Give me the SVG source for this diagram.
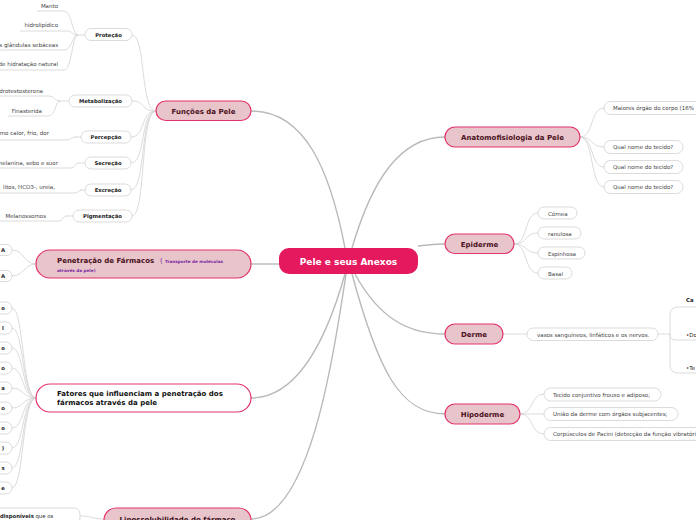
<svg xmlns="http://www.w3.org/2000/svg" width="696" height="520" viewBox="0 0 696 520">
<style>
text{font-family:"DejaVu Sans","Liberation Sans",sans-serif}
.main rect{fill:#e8c5cb;stroke:#e3336c;stroke-width:1.2}
.main text{font-size:7px;font-weight:bold;fill:#4a1020;text-anchor:middle}
.leaf rect{fill:#fff;stroke:#d2d2d2;stroke-width:0.8}
.leaf text{font-size:5.5px;fill:#444}
.bl text{font-size:5.3px;font-weight:bold;fill:#222;text-anchor:middle}
.sub text{font-size:5.5px;fill:#444;text-anchor:end}
.c1{fill:none;stroke:#b9b9b9;stroke-width:1.4}
.c2{fill:none;stroke:#d2d2d2;stroke-width:0.8}
</style>
<g id="connectors">
<path class="c1" d="M251,111 C305,111 330,170 345,248"/>
<path class="c1" d="M352,248 C372,180 400,137 445,137"/>
<path class="c1" d="M418,246 C430,245 435,244 445,244"/>
<path class="c1" d="M251,264 L279,264"/>
<path class="c1" d="M355,274 C380,320 410,334 445,334"/>
<path class="c1" d="M352,274 C378,370 400,414 445,414"/>
<path class="c1" d="M251,398 C305,398 332,320 345,274"/>
<path class="c1" d="M251,519 C312,519 336,340 346,274"/>
<path class="c2" d="M156,111 C140,111 146,35 132,35"/>
<path class="c2" d="M156,111 C140,111 146,101 132,101"/>
<path class="c2" d="M156,111 C140,111 146,137 131,137"/>
<path class="c2" d="M156,111 C140,111 146,163 131,163"/>
<path class="c2" d="M156,111 C140,111 146,190 131,190"/>
<path class="c2" d="M156,111 C140,111 146,216 132,216"/>
<path class="c2" d="M85,35 H76"/>
<path class="c2" d="M37,11 H64 C72,11 72,35 78,35"/>
<path class="c2" d="M20,31 H68 C72,31 72,35 78,35"/>
<path class="c2" d="M0,50 H64 C72,50 72,35 78,35"/>
<path class="c2" d="M0,70 H64 C72,70 72,35 78,35"/>
<path class="c2" d="M69,101 H58"/>
<path class="c2" d="M0,96 H48 C55,96 54,101 60,101"/>
<path class="c2" d="M8,116 H48 C56,116 55,101 60,101"/>
<path class="c2" d="M81,137 H75"/>
<path class="c2" d="M0,140 H66 C72,140 70,137 76,137"/>
<path class="c2" d="M85,163 H78"/>
<path class="c2" d="M0,168 H70 C76,168 74,163 79,163"/>
<path class="c2" d="M85,190 H80"/>
<path class="c2" d="M0,193 H74 C79,193 78,190 82,190"/>
<path class="c2" d="M73,216 H66"/>
<path class="c2" d="M0,221 H58 C64,221 62,216 67,216"/>
<path class="c2" d="M36,264 C24,264 24,250 12,250"/>
<path class="c2" d="M36,264 C24,264 24,276 12,276"/>
<path class="c2" d="M36,398 C22,398 24,308 12,308"/>
<path class="c2" d="M36,398 C22,398 24,328 12,328"/>
<path class="c2" d="M36,398 C22,398 24,348 12,348"/>
<path class="c2" d="M36,398 C22,398 24,368 12,368"/>
<path class="c2" d="M36,398 C22,398 24,388 12,388"/>
<path class="c2" d="M36,398 C22,398 24,408 12,408"/>
<path class="c2" d="M36,398 C22,398 24,428 12,428"/>
<path class="c2" d="M36,398 C22,398 24,448 12,448"/>
<path class="c2" d="M36,398 C22,398 24,468 12,468"/>
<path class="c2" d="M36,398 C22,398 24,488 12,488"/>
<path class="c2" d="M104,519 C92,519 92,516 80,516"/>
<path class="c2" d="M580,137 C594,137 590,108 604,108"/>
<path class="c2" d="M580,137 C594,137 590,147 604,147"/>
<path class="c2" d="M580,137 C594,137 590,167 604,167"/>
<path class="c2" d="M580,137 C594,137 590,187 604,187"/>
<path class="c2" d="M514,244 C528,244 524,213 538,213"/>
<path class="c2" d="M514,244 C528,244 524,233 538,233"/>
<path class="c2" d="M514,244 C528,244 524,253 538,253"/>
<path class="c2" d="M514,244 C528,244 524,273 538,273"/>
<path class="c2" d="M503,334 H527"/>
<path class="c2" d="M520,414 C534,414 530,394 544,394"/>
<path class="c2" d="M520,414 C534,414 530,414 544,414"/>
<path class="c2" d="M520,414 C534,414 530,434 544,434"/>
<path class="c2" d="M658,334 H670"/>
<path class="c2" d="M696,307 H678 Q670,307 670,315 V365 Q670,373 678,373 H696"/>
<path class="c2" d="M670,334 Q670,340 676,340 H696"/>
</g>
<g id="center">
<rect x="279" y="248" width="139" height="26" rx="10" fill="#e5195e"/>
<text x="348.5" y="264.5" font-size="9" font-weight="bold" fill="#fff" text-anchor="middle">Pele e seus Anexos</text>
</g>
<g id="funcoes" class="main">
<rect x="156" y="101" width="95" height="19.5" rx="9.7"/>
<text x="203.5" y="113.5">Funções da Pele</text>
</g>
<g id="penetracao" class="main">
<rect x="36" y="250" width="215" height="28" rx="14"/>
<text x="57" y="263" style="text-anchor:start">Penetração de Fármacos</text>
<text x="160" y="263" style="text-anchor:start;font-size:7px;fill:#7b1fa2;font-weight:normal">(</text>
<text x="165" y="263" style="text-anchor:start;font-size:4.2px;fill:#7b1fa2">Transporte de moléculas</text>
<text x="57" y="271.5" style="text-anchor:start;font-size:4.2px;fill:#7b1fa2">através da pele)</text>
</g>
<g id="fatores" class="main">
<rect x="36" y="384" width="215" height="28" rx="14" style="fill:#fff"/>
<text x="57" y="396" style="text-anchor:start;fill:#111">Fatores que influenciam a penetração dos</text>
<text x="57" y="405" style="text-anchor:start;fill:#111">fármacos através da pele</text>
</g>
<g id="lipo" class="main">
<rect x="104" y="508" width="147" height="28" rx="12"/>
<text x="177.5" y="521.5" style="fill:#3a0d18">Lipossolubilidade do fármaco</text>
</g>
<g id="anatomo" class="main">
<rect x="445" y="127" width="135" height="20" rx="10"/>
<text x="512.5" y="139.5">Anatomofisiologia da Pele</text>
</g>
<g id="epiderme" class="main">
<rect x="445" y="234" width="69" height="19.5" rx="9.7"/>
<text x="479.5" y="246.5">Epiderme</text>
</g>
<g id="derme" class="main">
<rect x="445" y="324" width="58" height="20" rx="10"/>
<text x="474" y="336.5">Derme</text>
</g>
<g id="hipoderme" class="main">
<rect x="445" y="404" width="75" height="20" rx="10"/>
<text x="482.5" y="416.5">Hipoderme</text>
</g>
<g id="protecao" class="leaf bl"><rect x="85" y="28.5" width="47" height="12" rx="6"/><text x="108.5" y="36.8">Proteção</text></g>
<g id="metabolizacao" class="leaf bl"><rect x="69" y="95" width="63" height="12" rx="6"/><text x="100.5" y="103.3">Metabolização</text></g>
<g id="percepcao" class="leaf bl"><rect x="81" y="131" width="50" height="12" rx="6"/><text x="106" y="139.3">Percepção</text></g>
<g id="secrecao" class="leaf bl"><rect x="85" y="157" width="46" height="12" rx="6"/><text x="108" y="165.3">Secreção</text></g>
<g id="excrecao" class="leaf bl"><rect x="85" y="184" width="46" height="12" rx="6"/><text x="108" y="192.3">Excreção</text></g>
<g id="pigmentacao" class="leaf bl"><rect x="73" y="210" width="59" height="12" rx="6"/><text x="102.5" y="218.3">Pigmentação</text></g>
<g id="protecao-sub" class="sub">
<text x="58" y="8">Manto</text>
<text x="58" y="27">hidrolipídico</text>
<text x="58" y="47">s glândulas sebáceas</text>
<text x="58" y="66">de hidratação natural</text>
</g>
<g id="metab-sub" class="sub">
<text x="43" y="93">idrotestosterona</text>
<text x="42" y="113">Finasterida</text>
</g>
<g id="percep-sub" class="sub"><text x="49" y="135">mo calor, frio, dor</text></g>
<g id="secre-sub" class="sub"><text x="58" y="165">melanina, sebo e suor</text></g>
<g id="excre-sub" class="sub"><text x="55" y="189">litos, HCO3-, ureia,</text></g>
<g id="pigm-sub" class="sub"><text x="46" y="218">Melanossomos</text></g>
<g id="pen-a1" class="leaf bl"><rect x="-20" y="244.5" width="32" height="11" rx="5.5"/><text x="3" y="252.3">A</text></g>
<g id="pen-a2" class="leaf bl"><rect x="-20" y="270.5" width="32" height="11" rx="5.5"/><text x="3" y="278.3">A</text></g>
<g id="fat-1" class="leaf bl"><rect x="-20" y="302" width="32" height="12" rx="6"/><text x="3" y="310">o</text></g>
<g id="fat-2" class="leaf bl"><rect x="-20" y="322" width="32" height="12" rx="6"/><text x="3" y="330">l</text></g>
<g id="fat-3" class="leaf bl"><rect x="-20" y="342" width="32" height="12" rx="6"/><text x="3" y="350">o</text></g>
<g id="fat-4" class="leaf bl"><rect x="-20" y="362" width="32" height="12" rx="6"/><text x="3" y="370">o</text></g>
<g id="fat-5" class="leaf bl"><rect x="-20" y="382" width="32" height="12" rx="6"/><text x="3" y="390">a</text></g>
<g id="fat-6" class="leaf bl"><rect x="-20" y="402" width="32" height="12" rx="6"/><text x="3" y="410">o</text></g>
<g id="fat-7" class="leaf bl"><rect x="-20" y="422" width="32" height="12" rx="6"/><text x="3" y="430">o</text></g>
<g id="fat-8" class="leaf bl"><rect x="-20" y="442" width="32" height="12" rx="6"/><text x="3" y="450">)</text></g>
<g id="fat-9" class="leaf bl"><rect x="-20" y="462" width="32" height="12" rx="6"/><text x="3" y="470">s</text></g>
<g id="fat-10" class="leaf bl"><rect x="-20" y="482" width="32" height="12" rx="6"/><text x="3" y="490">e</text></g>
<g id="lipo-1" class="leaf"><rect x="-20" y="508" width="100" height="16" rx="6"/><text x="0" y="517.5" style="font-size:5.3px;fill:#222"><tspan font-weight="bold">disponíveis</tspan> que os</text></g>
<g id="ana-1" class="leaf"><rect x="604" y="101.5" width="110" height="13" rx="6.5"/><text x="613" y="110">Maiores órgão do corpo (16%</text></g>
<g id="ana-2" class="leaf"><rect x="604" y="140.5" width="79" height="13" rx="6.5"/><text x="613" y="149">Qual nome do tecido?</text></g>
<g id="ana-3" class="leaf"><rect x="604" y="160.5" width="79" height="13" rx="6.5"/><text x="613" y="169">Qual nome do tecido?</text></g>
<g id="ana-4" class="leaf"><rect x="604" y="180.5" width="79" height="13" rx="6.5"/><text x="613" y="189">Qual nome do tecido?</text></g>
<g id="epi-1" class="leaf"><rect x="538" y="207" width="39" height="12" rx="6"/><text x="548" y="215.5">Córnea</text></g>
<g id="epi-2" class="leaf"><rect x="538" y="227" width="43" height="12" rx="6"/><text x="548" y="235.5">ranulosa</text></g>
<g id="epi-3" class="leaf"><rect x="538" y="247" width="47" height="12" rx="6"/><text x="548" y="255.5">Espinhosa</text></g>
<g id="epi-4" class="leaf"><rect x="538" y="267" width="34" height="12" rx="6"/><text x="548" y="275.5">Basal</text></g>
<g id="derme-1" class="leaf"><rect x="527" y="328" width="131" height="12.5" rx="6.2"/><text x="537" y="336.5">vasos sanguíneos, linfáticos e os nervos.</text></g>
<g id="derme-sub">
<text x="686" y="302" style="font-size:5.3px;font-weight:bold;fill:#222">Ca</text>
<text x="686" y="337" style="font-size:5.5px;fill:#222">•Do</text>
<text x="686" y="369.5" style="font-size:5.5px;fill:#222">•Te</text>
</g>
<g id="hipo-1" class="leaf"><rect x="544" y="388" width="117" height="13" rx="6.5"/><text x="553" y="396.5">Tecido conjuntivo frouxo e adiposo;</text></g>
<g id="hipo-2" class="leaf"><rect x="544" y="407.5" width="134" height="13" rx="6.5"/><text x="553" y="416">União da derme com órgãos subjacentes;</text></g>
<g id="hipo-3" class="leaf"><rect x="544" y="427.5" width="160" height="13" rx="6.5"/><text x="553" y="436">Corpúsculos de Pacini (detecção da função vibratóri</text></g>
</svg>
